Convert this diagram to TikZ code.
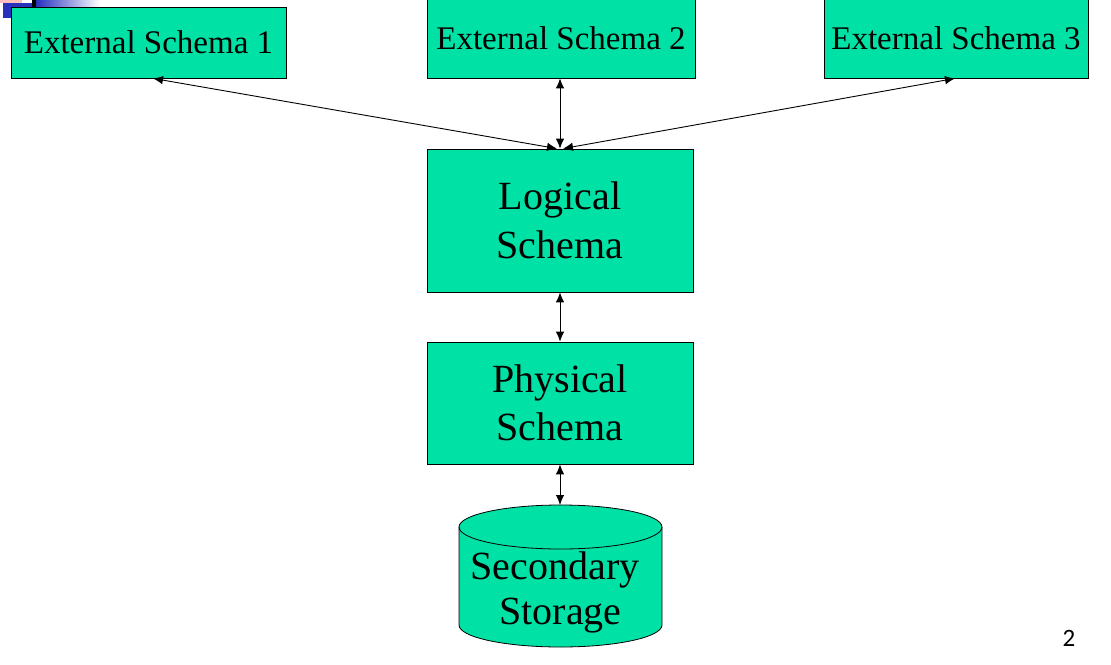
\documentclass[tikz,border=0pt]{standalone}
\usepackage{fontspec}
\setmainfont{Liberation Serif}
\newfontfamily\pagefont{Carlito}
\usetikzlibrary{arrows.meta,calc}
\definecolor{boxgreen}{RGB}{0,226,165}
\definecolor{decoblue}{RGB}{40,48,190}
\definecolor{decopink}{RGB}{255,190,190}
\begin{document}
\begin{tikzpicture}[x=1pt,y=-1pt,
  schemabox/.style={draw=black, line width=0.8pt, fill=boxgreen, inner sep=0pt, align=center},
  smalltext/.style={font=\fontsize{33}{40}\selectfont},
  bigtext/.style={font=\fontsize{40}{48.5}\selectfont},
  link/.style={{Latex[length=10pt,width=8.5pt]}-{Latex[length=10pt,width=8.5pt]}, line width=0.9pt}]
\useasboundingbox (0,0) rectangle (1111,664);
\fill[white] (0,0) rectangle (1111,664);
% slide decoration (top-left)
\fill[decoblue] (3,3) rectangle (33,18);
\fill[decopink] (0,0) rectangle (22,3);
\fill[black] (32,0) rectangle (36,8);
\shade[left color=decoblue, right color=white] (36,0) rectangle (100,8);
% boxes
\node[schemabox, smalltext, minimum width=275pt, minimum height=71pt] (es1) at (148.5,42.5) {External Schema 1};
\node[schemabox, smalltext, minimum width=268pt, minimum height=80pt] (es2) at (561,38) {External Schema 2};
\node[schemabox, smalltext, minimum width=264pt, minimum height=79pt] (es3) at (956,38.5) {External Schema 3};
\node[schemabox, bigtext, minimum width=266pt, minimum height=143pt] (logical) at (560,220.5) {Logical\\Schema};
\node[schemabox, bigtext, minimum width=266pt, minimum height=122pt] (physical) at (560,403) {Physical\\Schema};
% cylinder
\filldraw[fill=boxgreen, draw=black, line width=0.8pt]
  (459,527) -- (459,625) arc[start angle=180, end angle=360, x radius=101.5pt, y radius=22pt]
  -- (662,527) arc[start angle=0, end angle=180, x radius=101.5pt, y radius=22pt] -- cycle;
\draw[line width=0.8pt] (459,527) arc[start angle=180, end angle=360, x radius=101.5pt, y radius=22pt];
\coordinate (cyltop) at (560,505);
\node[align=center, inner sep=0pt, font=\fontsize{40}{45}\selectfont] (storage) at (555,592) {Secondary\\\hspace*{11pt}Storage};
% connectors
\draw[link] ($(es1.south)+(4.5,0)$) -- ($(logical.north)+(-3,0)$);
\draw[link] (logical.north |- es2.south) -- (logical.north);
\draw[link] ($(es3.south)+(-1,0)$) -- ($(logical.north)+(3,0)$);
\draw[link] (logical.south) -- (physical.north);
\draw[link] (physical.south) -- (cyltop);
% page number
\node[font=\pagefont\fontsize{25}{30}\selectfont, inner sep=0pt] (pagenum) at (1069,638) {2};
\end{tikzpicture}
\end{document}
